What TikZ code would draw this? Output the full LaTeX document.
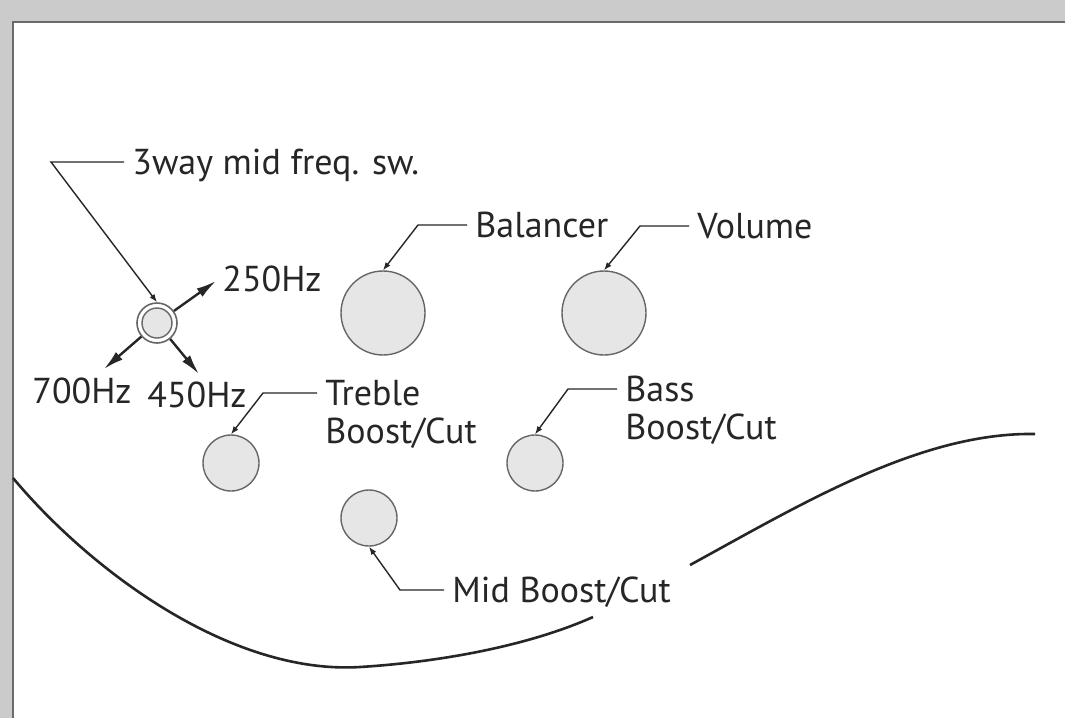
\documentclass[tikz,border=0pt]{standalone}
\usepackage{fontspec}
\setmainfont{PT Sans}
\usepackage{tikz}
\usetikzlibrary{arrows.meta}
\pgfdeclarelayer{bg}
\pgfsetlayers{bg,main}
\definecolor{frame}{HTML}{CBCBCB}
\definecolor{edge}{HTML}{6A6A6A}
\definecolor{ink}{HTML}{262626}
\definecolor{knobfill}{HTML}{E6E6E6}
\definecolor{knobline}{HTML}{666666}

\begin{document}
\begin{tikzpicture}[x=0.5pt, y=-0.5pt,
        knob/.style={circle, draw=knobline, fill=knobfill, line width=0.7pt, inner sep=0pt},
        tag/.style={anchor=north west, inner xsep=4pt, inner ysep=0pt, text=ink,
                font=\fontsize{18}{19}\selectfont, align=left},
        lead/.style={draw=ink, line width=0.7pt, -{Latex[length=4pt,width=3pt]}},
        freq/.style={draw=ink, line width=1.2pt, -{Latex[length=10pt,width=5pt]}}]
        \useasboundingbox (0,0) rectangle (1065,718);
        \begin{pgfonlayer}{bg}
                \fill [frame] (0,0) rectangle (1065,718);
                \fill [white] (13,22) rectangle (1065,718);
                \draw [edge, line width=1.2pt] (13,718) -- (13,22) -- (1065,22);
        \end{pgfonlayer}
        % body outline
        \draw [ink, line width=1.3pt] (13,478) .. controls (90,570) and (230,675) .. (360,667)
                .. controls (440,662) and (528,646) .. (593,617);
        \draw [ink, line width=1.3pt] (690,565) .. controls (800,505) and (920,432) .. (1035,434);
        % knobs
        \node (bal) [knob, minimum size=42pt] at (383,313) {};
        \node (vol) [knob, minimum size=42pt] at (604,313) {};
        \node (tre) [knob, minimum size=28pt] at (231,463) {};
        \node (bass) [knob, minimum size=28pt] at (535,463) {};
        \node (mid) [knob, minimum size=28pt] at (369,518) {};
        \node (sw) [circle, draw=knobline, fill=white, line width=0.8pt, inner sep=0pt, minimum size=20pt] at (157,323) {};
        \node (swi) [knob, minimum size=15pt] at (157,323) {};
        % labels
        \node (tsw) [tag] at (124,149) {3way mid freq. sw.};
        \node (tbal) [tag] at (467,212) {Balancer};
        \node (tvol) [tag] at (689,213) {Volume};
        \node (ttre) [tag] at (317,380) {Treble\\Boost/Cut};
        \node (tbass) [tag] at (617,376) {Bass\\Boost/Cut};
        \node (tmid) [tag] at (444,576) {Mid Boost/Cut};
        \node (t250) [tag] at (214,265) {250Hz};
        \node (t700) [tag] at (24,377) {700Hz};
        \node (t450) [tag] at (139,381) {450Hz};
        % switch positions
        \coordinate (f250) at (216,281);
        \coordinate (f700) at (104,369);
        \coordinate (f450) at (199,374);
        \draw [freq] (sw) -- (f250);
        \draw [freq] (sw) -- (f700);
        \draw [freq] (sw) -- (f450);
        % leaders
        \draw [lead] ([yshift=-6.5pt]tsw.north west) -- ++(-73,0) -- (sw.north);
        \draw [lead] ([yshift=-6.5pt]tbal.north west) -- ++(-49,0) -- (bal.north);
        \draw [lead] ([yshift=-6.5pt]tvol.north west) -- ++(-49,0) -- (vol.north);
        \draw [lead] ([yshift=-6.5pt]ttre.north west) -- ++(-54,0) -- (tre.north);
        \draw [lead] ([yshift=-6.5pt]tbass.north west) -- ++(-49,0) -- (bass.north);
        \draw [lead] ([yshift=-7pt]tmid.north west) -- ++(-44,0) -- (mid.south);
\end{tikzpicture}
\end{document}
